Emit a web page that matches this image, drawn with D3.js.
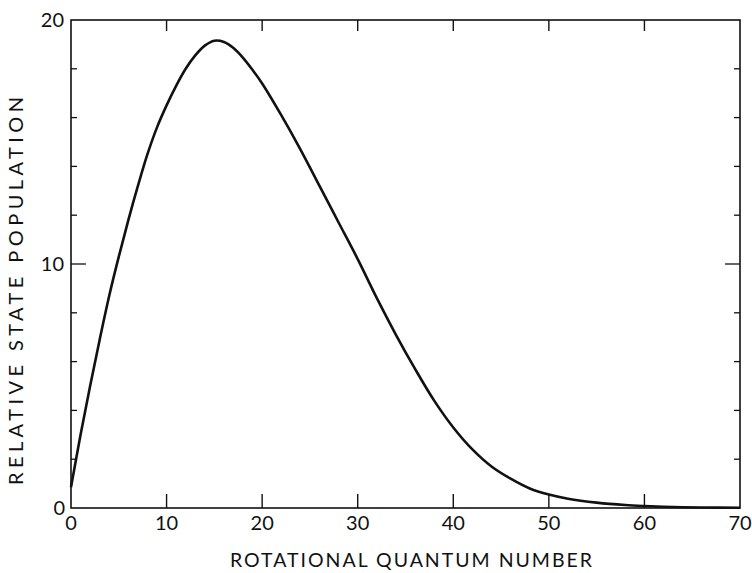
<!DOCTYPE html>
<html>
<head>
<meta charset="utf-8">
<script src="https://cdn.jsdelivr.net/npm/d3@7"></script>
<style>
  html, body { margin: 0; padding: 0; background: #fff; }
  svg { display: block; }
  text { font-family: Lato, "Open Sans", sans-serif; fill: #111; }
</style>
</head>
<body>
<svg id="chart" width="752" height="573"></svg>
<script>
// Rotational quantum number J and relative state population
const quantumNumber = [0, 1, 2, 3, 4, 5, 6, 7, 8, 9, 10, 11, 12, 13, 14, 15, 16, 17, 18, 19, 20,
  22, 24, 26, 28, 30, 32, 34, 36, 38, 40, 42, 44, 46, 48, 50, 52, 55, 58, 60, 63, 66, 70];
const population = [0.85, 3.0, 5.0, 6.9, 8.7, 10.3, 11.8, 13.2, 14.5, 15.6, 16.5, 17.3, 18.0, 18.55, 18.95, 19.15, 19.1, 18.85, 18.45, 17.95, 17.4,
  16.1, 14.7, 13.2, 11.7, 10.2, 8.6, 7.1, 5.7, 4.4, 3.3, 2.4, 1.7, 1.2, 0.8, 0.55, 0.38, 0.22, 0.12, 0.08, 0.04, 0.02, 0.01];

const xTicks = [0, 10, 20, 30, 40, 50, 60, 70];
const yLabels = [0, 10, 20];
const yMinorTicks = [2, 4, 6, 8, 12, 14, 16, 18];
const yMajorTicks = [10];

const xTitle = "ROTATIONAL QUANTUM NUMBER";
const yTitle = "RELATIVE STATE POPULATION";

const svg = d3.select("#chart");
const plotLeft = 71, plotRight = 740, plotTop = 20, plotBottom = 508;

const x = d3.scaleLinear().domain([0, 70]).range([plotLeft, plotRight]);
const y = d3.scaleLinear().domain([0, 20]).range([plotBottom, plotTop]);

const ink = "#111";

// frame
svg.append("rect")
  .attr("x", plotLeft).attr("y", plotTop)
  .attr("width", plotRight - plotLeft).attr("height", plotBottom - plotTop)
  .attr("fill", "none").attr("stroke", ink).attr("stroke-width", 1.6);

// x ticks on bottom (pointing up) and top (pointing down)
const inner = xTicks.filter(d => d > 0 && d < 70);
svg.append("g").selectAll("line").data(inner).join("line")
  .attr("x1", d => x(d)).attr("x2", d => x(d))
  .attr("y1", plotBottom).attr("y2", plotBottom - 14)
  .attr("stroke", ink).attr("stroke-width", 1.4);
svg.append("g").selectAll("line").data(inner).join("line")
  .attr("x1", d => x(d)).attr("x2", d => x(d))
  .attr("y1", plotTop).attr("y2", plotTop + 11)
  .attr("stroke", ink).attr("stroke-width", 1.4);

// y ticks on left and right, minor and major
function yTicks(data, len) {
  svg.append("g").selectAll("line").data(data).join("line")
    .attr("x1", plotLeft).attr("x2", plotLeft + len)
    .attr("y1", d => y(d)).attr("y2", d => y(d))
    .attr("stroke", ink).attr("stroke-width", 1.3);
  svg.append("g").selectAll("line").data(data).join("line")
    .attr("x1", plotRight).attr("x2", plotRight - len)
    .attr("y1", d => y(d)).attr("y2", d => y(d))
    .attr("stroke", ink).attr("stroke-width", 1.3);
}
yTicks(yMinorTicks, 6);
yTicks(yMajorTicks, 15);

// tick labels
svg.append("g").selectAll("text").data(xTicks).join("text")
  .attr("x", d => x(d)).attr("y", 530)
  .attr("text-anchor", "middle")
  .style("font-size", "20px")
  .text(d => d);

svg.append("g").selectAll("text").data(yLabels).join("text")
  .attr("x", d => d === 0 ? 65 : 64).attr("y", d => y(d) + 7)
  .attr("text-anchor", "end")
  .style("font-size", "20px")
  .text(d => d);

// axis titles
svg.append("text")
  .attr("x", 230).attr("y", 567)
  .attr("textLength", 362).attr("lengthAdjust", "spacing")
  .style("font-size", "19.5px")
  .text(xTitle);

svg.append("text")
  .attr("transform", "translate(23,485) rotate(-90)")
  .attr("x", 0).attr("y", 0)
  .attr("textLength", 388).attr("lengthAdjust", "spacing")
  .style("font-size", "20px")
  .text(yTitle);

// population curve
const pts = quantumNumber.map((j, i) => [j, population[i]]);
const line = d3.line()
  .x(d => x(d[0])).y(d => y(d[1]))
  .curve(d3.curveCatmullRom.alpha(0.5));

svg.append("path")
  .datum(pts)
  .attr("d", line)
  .attr("fill", "none")
  .attr("stroke", ink)
  .attr("stroke-width", 2.6)
  .attr("stroke-linejoin", "round");
</script>
</body>
</html>
